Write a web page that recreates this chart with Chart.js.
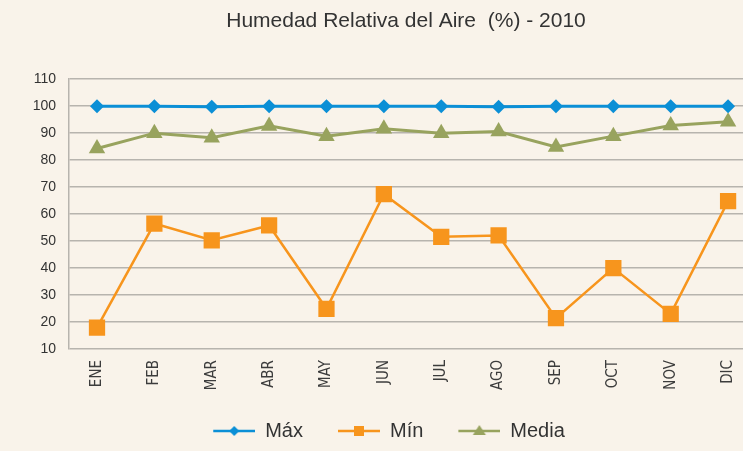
<!DOCTYPE html>
<html>
<head>
<meta charset="utf-8">
<script src="https://cdn.jsdelivr.net/npm/chart.js@4"></script>
<style>
  html, body { margin: 0; padding: 0; background: #f9f3ea; overflow: hidden; }
  #wrap { width: 743px; height: 451px; }
</style>
</head>
<body>
<div id="wrap"><canvas id="myChartLine" width="743" height="451"></canvas></div>
<script>
  // DATOS
  const meses = ["ENE", "FEB", "MAR", "ABR", "MAY", "JUN", "JUL", "AGO", "SEP", "OCT", "NOV", "DIC"];
  const humMax = [100, 100, 99.8, 100, 100, 100, 100, 99.8, 100, 100, 100, 100];
  const humMin = [17.9, 56.5, 50.3, 55.8, 24.9, 67.4, 51.6, 52.1, 21.4, 40, 23, 64.8];
  const humMedia = [84.3, 90, 88.3, 92.7, 88.9, 91.6, 90, 90.6, 84.9, 88.9, 92.8, 94.2];
  const titulo = "Humedad Relativa del Aire  (%) - 2010";

  const azul = "#0b8fd6";
  const naranja = "#f7951d";
  const oliva = "#98a35e";
  const gris = "#b7b4ae";
  const texto = "#333333";

  function puntos(valores) {
    return valores.map((v, i) => ({ x: i, y: v }));
  }

  // icono de leyenda: linea + marcador
  function iconoLeyenda(color, estilo) {
    const c = document.createElement("canvas");
    c.width = 77; c.height = 20;
    const ctx = c.getContext("2d");
    ctx.strokeStyle = color; ctx.fillStyle = color; ctx.lineWidth = 2.5;
    ctx.beginPath(); ctx.moveTo(35, 10); ctx.lineTo(77, 10); ctx.stroke();
    const cx = 56, cy = 10;
    ctx.beginPath();
    if (estilo === "rombo") {
      ctx.moveTo(cx, cy - 5); ctx.lineTo(cx + 5, cy); ctx.lineTo(cx, cy + 5); ctx.lineTo(cx - 5, cy);
    } else if (estilo === "cuadro") {
      ctx.rect(cx - 5, cy - 5, 10, 10);
    } else {
      ctx.moveTo(cx, cy - 6); ctx.lineTo(cx + 6.5, cy + 4); ctx.lineTo(cx - 6.5, cy + 4);
    }
    ctx.closePath(); ctx.fill();
    return c;
  }
  const iconos = [iconoLeyenda(azul, "rombo"), iconoLeyenda(naranja, "cuadro"), iconoLeyenda(oliva, "triangulo")];

  const config_line = {
    type: "line",
    data: {
      datasets: [{
        label: "Máx",
        data: puntos(humMax),
        borderColor: azul, backgroundColor: azul, borderWidth: 3,
        pointStyle: "rectRot", pointRadius: 7, pointBorderWidth: 0
      }, {
        label: "Mín",
        data: puntos(humMin),
        borderColor: naranja, backgroundColor: naranja, borderWidth: 2.5,
        pointStyle: "rect", pointRadius: 11.5, pointBorderWidth: 0
      }, {
        label: "Media",
        data: puntos(humMedia),
        borderColor: oliva, backgroundColor: oliva, borderWidth: 3,
        pointStyle: "triangle", pointRadius: 9.5, pointBorderWidth: 0
      }]
    },
    options: {
      responsive: false,
      animation: false,
      devicePixelRatio: 1,
      events: [],
      layout: { padding: 0, autoPadding: false },
      scales: {
        x: {
          type: "linear",
          min: -0.488, max: 11.26,
          afterFit: (s) => { s.height = 72; s.paddingLeft = 0; s.paddingRight = 0; },
          grid: { display: false, drawTicks: false },
          border: { display: false },
          ticks: {
            stepSize: 1, includeBounds: false, autoSkip: false,
            minRotation: 90, maxRotation: 90, padding: 11,
            color: "#3c3c3c",
            font: { family: "'Liberation Sans Narrow', 'DejaVu Sans Condensed', sans-serif", size: 15 },
            callback: (v) => Number.isInteger(v) ? meses[v] : ""
          }
        },
        y: {
          min: 10, max: 110,
          afterFit: (s) => { s.width = 69; },
          grid: { color: gris, lineWidth: 1.5, drawTicks: false },
          border: { display: true, color: gris, width: 1.5 },
          ticks: {
            stepSize: 10, padding: 13, color: texto,
            font: { family: "'Liberation Sans', Arial, sans-serif", size: 14 }
          }
        }
      },
      plugins: {
        title: {
          display: true, text: titulo, fullSize: false,
          color: texto,
          font: { family: "'Liberation Sans', Arial, sans-serif", size: 21, weight: "normal" },
          padding: { top: 9, bottom: 45 }
        },
        legend: {
          position: "bottom",
          labels: {
            usePointStyle: true, pointStyleWidth: 77, padding: 0,
            color: texto,
            font: { family: "'Liberation Sans', Arial, sans-serif", size: 20 },
            generateLabels: (chart) => chart.data.datasets.map((ds, i) => ({
              text: ds.label, fillStyle: ds.borderColor, strokeStyle: ds.borderColor,
              lineWidth: 0, pointStyle: iconos[i], hidden: false, datasetIndex: i, fontColor: texto
            }))
          }
        },
        tooltip: { enabled: false }
      }
    }
  };

  var myChartLine = new Chart(document.getElementById("myChartLine"), config_line);
</script>
</body>
</html>
